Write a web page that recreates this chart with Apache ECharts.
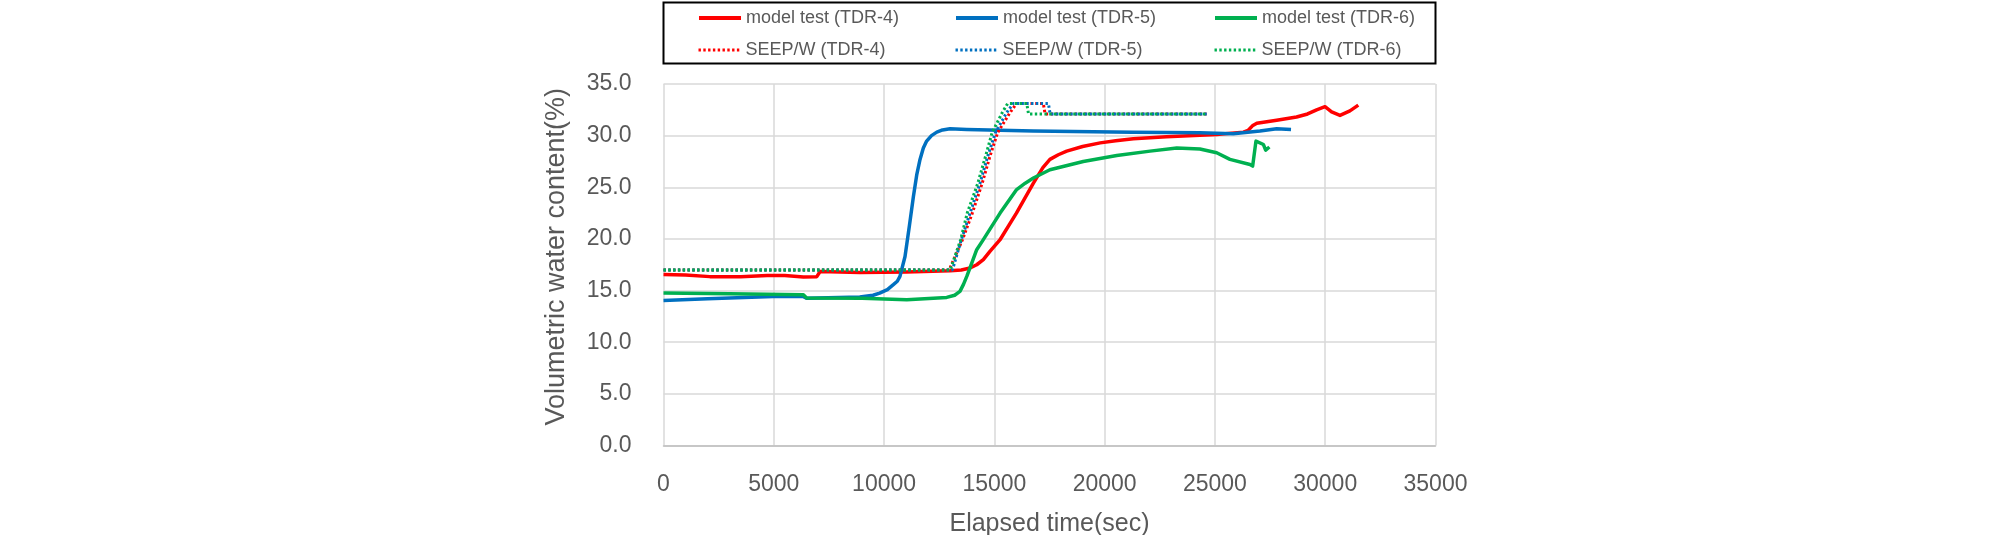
<!DOCTYPE html>
<html>
<head>
<meta charset="utf-8">
<script src="https://cdn.jsdelivr.net/npm/echarts@6/dist/echarts.min.js"></script>
<style>
  html, body { margin: 0; padding: 0; background: #fff; }
  #chart { width: 2008px; height: 535px; }
</style>
</head>
<body>
<div id="chart"></div>
<script>
// values: [elapsed time (sec), volumetric water content (%)]
var tdr4_model = [
  [0, 16.55], [1000, 16.5], [2100, 16.35], [3500, 16.35], [4700, 16.45], [5500, 16.45],
  [6340, 16.32], [6950, 16.35], [7100, 16.85], [8900, 16.75], [11000, 16.8], [13000, 16.92],
  [13500, 17.0], [13900, 17.18], [14200, 17.5], [14500, 18.0], [14800, 18.8], [15250, 19.9],
  [16000, 22.5], [16770, 25.4], [17200, 26.9], [17520, 27.7], [17900, 28.15], [18280, 28.5],
  [19000, 28.95], [19800, 29.3], [20500, 29.5], [21300, 29.7], [22800, 29.9], [25080, 30.1],
  [26290, 30.34], [26500, 30.5], [26700, 30.95], [26900, 31.2], [27800, 31.5], [28700, 31.8],
  [29200, 32.1], [29610, 32.5], [29990, 32.8], [30290, 32.3], [30670, 31.96], [31120, 32.4],
  [31500, 32.95]
];
var tdr5_model = [
  [0, 14.05], [2000, 14.2], [4980, 14.43], [6300, 14.45], [6500, 14.25], [8900, 14.37],
  [9500, 14.55], [9800, 14.76], [10150, 15.1], [10420, 15.57], [10600, 15.9], [10720, 16.37],
  [10950, 18.3], [11150, 21.3], [11330, 24.1], [11480, 26.2], [11630, 27.7], [11780, 28.8],
  [11930, 29.47], [12150, 30.0], [12390, 30.34], [12650, 30.55], [12990, 30.67], [13750, 30.6],
  [16770, 30.44], [21300, 30.34], [24320, 30.28], [25830, 30.18], [27040, 30.44], [27800, 30.67],
  [28450, 30.6]
];
var tdr6_model = [
  [0, 14.76], [3000, 14.7], [6340, 14.6], [6490, 14.28], [9000, 14.25], [11030, 14.11],
  [12840, 14.34], [13200, 14.55], [13440, 14.92], [13600, 15.6], [13750, 16.37], [14000, 17.8],
  [14200, 18.96], [14500, 19.93], [15260, 22.5], [16010, 24.78], [16400, 25.4], [16770, 25.9],
  [17520, 26.7], [19030, 27.5], [20550, 28.07], [22060, 28.5], [23270, 28.8], [24320, 28.7],
  [25080, 28.34], [25680, 27.7], [26590, 27.2], [26710, 27.05], [26860, 29.47], [27200, 29.14],
  [27300, 28.6], [27470, 28.9]
];
var tdr4_seep = [
  [0, 17.0], [12950, 17.0], [13550, 19.9], [14000, 22.5], [14450, 25.4], [14800, 28.0],
  [15150, 30.3], [15700, 32.2], [16000, 33.1], [17220, 33.1], [17300, 32.1], [24630, 32.1]
];
var tdr5_seep = [
  [0, 17.0], [13100, 17.0], [13500, 19.9], [13900, 22.5], [14350, 25.4], [14700, 28.0],
  [15050, 30.3], [15550, 32.2], [15850, 33.1], [17450, 33.1], [17530, 32.1], [24630, 32.1]
];
var tdr6_seep = [
  [0, 17.0], [13000, 17.0], [13470, 19.9], [13770, 22.5], [14250, 25.4], [14600, 28.0],
  [14900, 30.3], [15350, 32.2], [15600, 33.1], [16470, 33.1], [16550, 32.1], [24630, 32.1]
];

var seriesNames = ['model test (TDR-4)', 'model test (TDR-5)', 'model test (TDR-6)',
  'SEEP/W (TDR-4)', 'SEEP/W (TDR-5)', 'SEEP/W (TDR-6)'];
var seriesData = [tdr4_model, tdr5_model, tdr6_model, tdr4_seep, tdr5_seep, tdr6_seep];
var colors = ['#FF0000', '#0070C0', '#00B050', '#FF0000', '#0070C0', '#00B050'];

var font = '"Liberation Sans", Arial, sans-serif';
var textGray = '#595959';

var series = seriesData.map(function (d, i) {
  var dotted = i >= 3;
  return {
    name: seriesNames[i],
    type: 'line',
    data: d,
    symbol: 'none',
    animation: false,
    color: colors[i],
    lineStyle: dotted
      ? {width: 3, type: [2.4, 2.4], color: colors[i]}
      : {width: 3.5, color: colors[i], join: 'round'}
  };
});

// one legend per entry so the three columns line up like the original
var colX = [697, 954, 1213];
var rowY = [8, 40];
var legends = seriesNames.map(function (n, i) {
  return {
    data: [n],
    left: colX[i % 3],
    top: rowY[Math.floor(i / 3)],
    padding: 0,
    itemWidth: 42,
    itemHeight: 14,
    itemGap: 5,
    itemStyle: {opacity: 0},
    lineStyle: {width: i < 3 ? 4 : 3},
    textStyle: {fontFamily: font, fontSize: 18, color: textGray, lineHeight: 20}
  };
});

var chart = echarts.init(document.getElementById('chart'));
chart.setOption({
  backgroundColor: '#fff',
  animation: false,
  grid: {left: 663.5, right: 572.5, top: 84, bottom: 89.5, outerBoundsMode: 'none', containLabel: false},
  legend: legends,
  graphic: [{
    type: 'rect',
    shape: {x: 663.5, y: 2.5, width: 772, height: 61},
    style: {fill: 'none', stroke: '#000', lineWidth: 2},
    silent: true
  }],
  xAxis: {
    type: 'value',
    min: 0,
    max: 35000,
    interval: 5000,
    name: 'Elapsed time(sec)',
    nameLocation: 'middle',
    nameGap: 66,
    nameTextStyle: {fontFamily: font, fontSize: 25, color: textGray},
    axisLine: {show: true, lineStyle: {color: '#BFBFBF', width: 1.5}},
    axisTick: {show: false},
    axisLabel: {
      fontFamily: font, fontSize: 23, color: textGray, margin: 28,
      formatter: function (v) { return String(v); }
    },
    splitLine: {show: true, lineStyle: {color: '#D9D9D9', width: 1.5}}
  },
  yAxis: {
    type: 'value',
    min: 0,
    max: 35,
    interval: 5,
    name: 'Volumetric water content(%)',
    nameLocation: 'middle',
    nameGap: 93,
    nameTextStyle: {fontFamily: font, fontSize: 27, color: textGray, padding: [0, 0, 0, 16]},
    axisLine: {show: false},
    axisTick: {show: false},
    axisLabel: {
      fontFamily: font, fontSize: 23, color: textGray, margin: 32,
      formatter: function (v) { return v.toFixed(1); }
    },
    splitLine: {show: true, lineStyle: {color: '#D9D9D9', width: 1.5}}
  },
  series: series
});
</script>
</body>
</html>
